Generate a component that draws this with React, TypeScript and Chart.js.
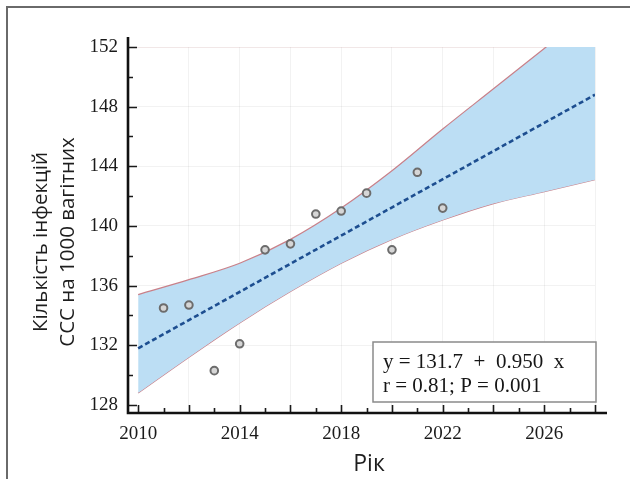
import React, { useEffect, useRef } from 'react';
import { Chart, registerables } from 'chart.js';

Chart.register(...registerables);

// ---- data ----
const pointYears = [2011, 2012, 2013, 2014, 2015, 2016, 2017, 2018, 2019, 2020, 2021, 2022];
const pointValues = [134.5, 134.7, 130.3, 132.1, 138.4, 138.8, 140.8, 141.0, 142.2, 138.4, 143.6, 141.2];

const fitYears = [2010, 2028];
const fitValues = [131.8, 148.8];

const bandYears = [2010, 2012, 2014, 2016, 2018, 2020, 2022, 2024, 2026, 2028];
const upperValues = [135.4, 136.4, 137.5, 139.1, 141.2, 143.7, 146.5, 149.2, 151.9, 154.6];
const lowerValues = [128.8, 131.2, 133.5, 135.6, 137.5, 139.1, 140.4, 141.5, 142.3, 143.1];

const xTickValues = [2010, 2012, 2014, 2016, 2018, 2020, 2022, 2024, 2026, 2028];
const xTickLabels = [2010, 2014, 2018, 2022, 2026];
const yTickValues = [128, 132, 136, 140, 144, 148, 152];
const yTickLabels = [128, 132, 136, 140, 144, 148, 152];
const xMinorTicks = [2010, 2011, 2012, 2013, 2014, 2015, 2016, 2017, 2018, 2019, 2020, 2021, 2022, 2023, 2024, 2025, 2026, 2027, 2028];
const yMinorTicks = [128, 130, 132, 134, 136, 138, 140, 142, 144, 146, 148, 150, 152];

const equationLines = ['y = 131.7  +  0.950  x', 'r = 0.81; P = 0.001'];
const yTitleLines = ['Кількість інфекцій', 'ССС на 1000 вагітних'];
const xTitle = 'Рік';

const X_MIN = 2009.6;
const X_MAX = 2028;
const Y_MIN = 127.46;
const Y_MAX = 152;

const decorPlugin = {
  id: 'decor',
  afterDraw(chart: any) {
    const { ctx, chartArea } = chart;
    const xs = chart.scales.x;
    const ys = chart.scales.y;
    const { left, right, top, bottom } = chartArea;
    ctx.save();

    // outer frame (top and left edges)
    ctx.strokeStyle = '#6a6a6a';
    ctx.lineWidth = 2;
    ctx.beginPath();
    ctx.moveTo(7, 480);
    ctx.lineTo(7, 7);
    ctx.lineTo(631, 7);
    ctx.stroke();

    // tick marks (inward)
    ctx.strokeStyle = '#1a1a1a';
    ctx.lineWidth = 1.6;
    ctx.beginPath();
    yMinorTicks.forEach((v) => {
      const py = Math.round(ys.getPixelForValue(v)) + 0.5;
      const len = yTickLabels.includes(v) ? 9 : 5;
      ctx.moveTo(left, py);
      ctx.lineTo(left + len, py);
    });
    xMinorTicks.forEach((v) => {
      const px = Math.round(xs.getPixelForValue(v)) + 0.5;
      const len = v % 2 === 0 ? 8 : 5;
      ctx.moveTo(px, bottom);
      ctx.lineTo(px, bottom - len);
    });
    ctx.stroke();

    // axis lines
    ctx.strokeStyle = '#111';
    ctx.lineWidth = 2.6;
    ctx.beginPath();
    ctx.moveTo(left, top - 10);
    ctx.lineTo(left, bottom);
    ctx.lineTo(right + 12, bottom);
    ctx.stroke();

    // equation box
    const bw = 223;
    const bh = 60;
    const bx = right + 1 - bw;
    const by = bottom - 11 - bh;
    ctx.fillStyle = '#ffffff';
    ctx.fillRect(bx, by, bw, bh);
    ctx.strokeStyle = '#8a8a8a';
    ctx.lineWidth = 1.5;
    ctx.strokeRect(bx, by, bw, bh);
    ctx.fillStyle = '#161616';
    ctx.font = '21px "Liberation Serif"';
    ctx.textAlign = 'left';
    ctx.textBaseline = 'alphabetic';
    ctx.fillText(equationLines[0], bx + 10, by + 26);
    ctx.fillText(equationLines[1], bx + 10, by + 50);

    // axis titles
    ctx.fillStyle = '#1e1e1e';
    ctx.font = '20.5px "Open Sans"';
    ctx.textAlign = 'center';
    const yc = 242;
    ctx.save();
    ctx.translate(47, yc);
    ctx.rotate(-Math.PI / 2);
    ctx.fillText(yTitleLines[0], 0, 0);
    ctx.restore();
    ctx.save();
    ctx.translate(74, yc);
    ctx.rotate(-Math.PI / 2);
    ctx.fillText(yTitleLines[1], 0, 0);
    ctx.restore();

    ctx.font = '23px "Open Sans"';
    ctx.fillText(xTitle, 369, 471);

    ctx.restore();
  },
};

export default function App() {
  const canvasRef = useRef<HTMLCanvasElement | null>(null);

  useEffect(() => {
    document.body.style.margin = '0';
    document.body.style.overflow = 'hidden';
    const canvas = canvasRef.current;
    if (!canvas) return;

    const chart = new Chart(canvas, {
      type: 'line',
      data: {
        datasets: [
          {
            label: 'points',
            data: pointYears.map((x, i) => ({ x, y: pointValues[i] })),
            showLine: false,
            pointRadius: 3.8,
            pointBorderWidth: 2,
            pointBorderColor: '#6c6c6c',
            pointBackgroundColor: '#d6d6d6',
            borderColor: '#6c6c6c',
          },
          {
            label: 'fit',
            data: fitYears.map((x, i) => ({ x, y: fitValues[i] })),
            borderColor: '#1d4e90',
            borderWidth: 2.6,
            borderDash: [5, 3],
            pointRadius: 0,
            fill: false,
          },
          {
            label: 'upper',
            data: bandYears.map((x, i) => ({ x, y: upperValues[i] })),
            borderColor: '#c98089',
            borderWidth: 1.2,
            pointRadius: 0,
            cubicInterpolationMode: 'monotone',
            fill: '+1',
            backgroundColor: 'rgb(188, 222, 244)',
            clip: 0,
          },
          {
            label: 'lower',
            data: bandYears.map((x, i) => ({ x, y: lowerValues[i] })),
            borderColor: '#c98089',
            borderWidth: 1.2,
            pointRadius: 0,
            cubicInterpolationMode: 'monotone',
            fill: false,
            clip: 0,
          },
        ],
      },
      options: {
        responsive: false,
        animation: false,
        events: [],
        layout: { padding: { left: 0, top: 47, right: 35, bottom: 0 } },
        plugins: {
          legend: { display: false },
          tooltip: { enabled: false },
          title: { display: false },
        },
        scales: {
          x: {
            type: 'linear',
            min: X_MIN,
            max: X_MAX,
            afterBuildTicks: (s: any) => {
              s.ticks = xTickValues.map((v) => ({ value: v }));
            },
            afterFit: (s: any) => {
              s.height = 66;
            },
            border: { display: false },
            grid: {
              drawTicks: false,
              color: (c: any) => {
                const v = c.tick ? c.tick.value : NaN;
                return v > 2010 ? 'rgba(0,0,0,0.05)' : 'rgba(0,0,0,0)';
              },
              lineWidth: 1,
            },
            ticks: {
              autoSkip: false,
              maxRotation: 0,
              padding: 10,
              color: '#1a1a1a',
              font: { family: '"Liberation Serif"', size: 19 },
              callback: (v: any) => (xTickLabels.includes(Number(v)) ? String(v) : ''),
            },
          },
          y: {
            type: 'linear',
            min: Y_MIN,
            max: Y_MAX,
            afterBuildTicks: (s: any) => {
              s.ticks = yTickValues.map((v) => ({ value: v }));
            },
            afterFit: (s: any) => {
              s.width = 128;
            },
            border: { display: false },
            grid: {
              drawTicks: false,
              color: (c: any) => {
                const v = c.tick ? c.tick.value : NaN;
                if (v === 128) return 'rgba(0,0,0,0)';
                if (v === 152) return 'rgba(180,120,120,0.18)';
                return 'rgba(0,0,0,0.05)';
              },
              lineWidth: 1,
            },
            ticks: {
              autoSkip: false,
              padding: 10,
              color: '#1a1a1a',
              font: { family: '"Liberation Serif"', size: 19 },
              callback: (v: any) => (yTickLabels.includes(Number(v)) ? String(v) : ''),
            },
          },
        },
      },
      plugins: [decorPlugin],
    } as any);

    return () => {
      chart.destroy();
    };
  }, []);

  return (
    <div style={{ width: 630, height: 479, position: 'relative', background: '#fff' }}>
      <canvas ref={canvasRef} width={630} height={479} style={{ display: 'block' }} />
    </div>
  );
}
